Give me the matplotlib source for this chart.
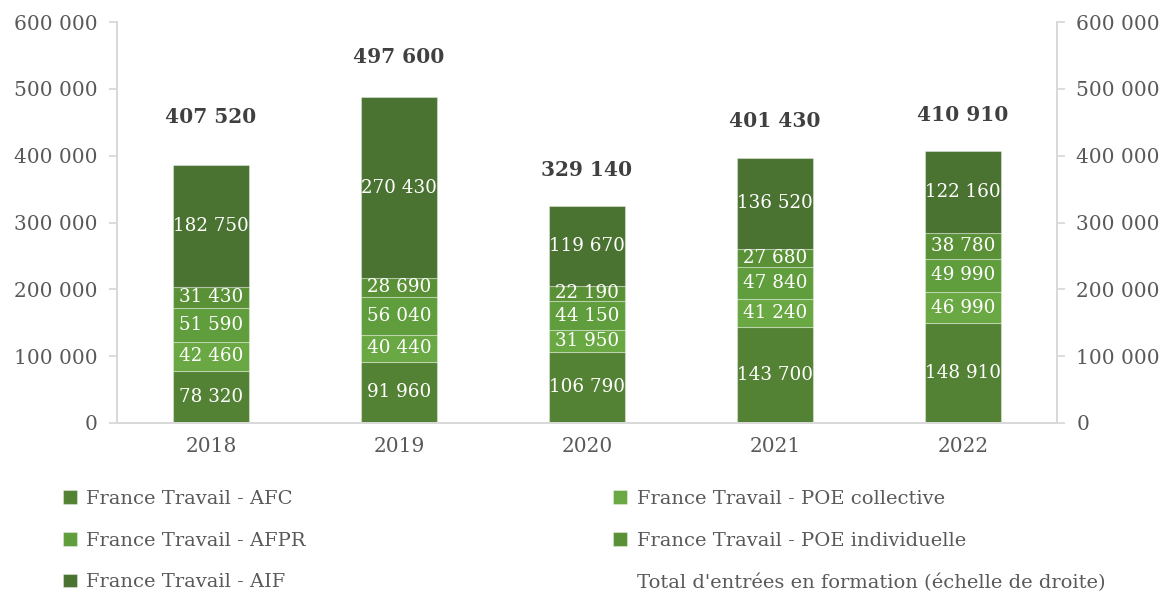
import matplotlib
matplotlib.use("Agg")
import matplotlib.pyplot as plt
from matplotlib.patches import Rectangle
import numpy as np

years = ["2018", "2019", "2020", "2021", "2022"]

afc = [78320, 91960, 106790, 143700, 148910]
poe_collective = [42460, 40440, 31950, 41240, 46990]
afpr = [51590, 56040, 44150, 47840, 49990]
poe_individuelle = [31430, 28690, 22190, 27680, 38780]
aif = [182750, 270430, 119670, 136520, 122160]
totals = [407520, 497600, 329140, 401430, 410910]

label_afc = "France Travail - AFC"
label_afpr = "France Travail - AFPR"
label_aif = "France Travail - AIF"
label_poe_col = "France Travail - POE collective"
label_poe_ind = "France Travail - POE individuelle"
label_total = "Total d'entrées en formation (échelle de droite)"

col_afc = "#548235"
col_poe_col = "#6aa843"
col_afpr = "#609d3d"
col_poe_ind = "#5a9137"
col_aif = "#4a7230"

plt.rcParams["font.family"] = ["DejaVu Serif"]
TXT = "#595959"
SPINE = "#d9d9d9"


def fmt(v):
    return f"{v:,}".replace(",", " ")


fig = plt.figure(figsize=(11.68, 5.99), dpi=100)
ax = fig.add_axes([117 / 1168, 1 - 423 / 599, 940 / 1168, 401 / 599])
ax2 = ax.twinx()

x = np.arange(len(years))
width = 0.4
stack = [
    (afc, col_afc, label_afc),
    (poe_collective, col_poe_col, label_poe_col),
    (afpr, col_afpr, label_afpr),
    (poe_individuelle, col_poe_ind, label_poe_ind),
    (aif, col_aif, label_aif),
]
bottom = np.zeros(len(years))
handles = {}
for vals, col, lab in stack:
    vals = np.array(vals, dtype=float)
    bars = ax.bar(x, vals, width, bottom=bottom, color=col,
                  edgecolor=(1, 1, 1, 0.35), linewidth=0.8, label=lab, zorder=2)
    handles[lab] = bars
    for xi, b, v in zip(x, bottom, vals):
        ax.text(xi, b + v / 2, fmt(int(v)), ha="center", va="center",
                color="white", fontsize=13.2, zorder=3)
    bottom += vals

# Totals on the secondary axis: invisible line carrying bold labels
line, = ax2.plot(x, totals, linestyle="none", marker=None, label=label_total)
for xi, t in zip(x, totals):
    ax2.annotate(fmt(t), (xi, t), xytext=(0, 24), textcoords="offset points",
                 ha="center", va="center", fontsize=14.5, fontweight="bold",
                 color="#404040")

ticks = np.arange(0, 600001, 100000)
for a in (ax, ax2):
    a.set_ylim(0, 600000)
    a.set_yticks(ticks)
    a.set_yticklabels([fmt(t) for t in ticks])
    a.set_xlim(-0.5, len(years) - 0.5)
    for s in a.spines.values():
        s.set_color(SPINE)
        s.set_linewidth(1.3)
    a.spines["top"].set_visible(False)
    a.tick_params(axis="y", colors=SPINE, labelcolor=TXT, labelsize=14.5,
                  length=6, width=1.3, pad=8)

ax.set_xticks(x)
ax.set_xticklabels(years)
ax.tick_params(axis="x", length=0, labelcolor=TXT, labelsize=14.5, pad=10)

blank = Rectangle((0, 0), 1, 1, fill=False, edgecolor="none", visible=False)
leg_handles = [handles[label_afc], handles[label_afpr], handles[label_aif],
               handles[label_poe_col], handles[label_poe_ind], blank]
leg_labels = [label_afc, label_afpr, label_aif, label_poe_col, label_poe_ind,
              label_total]
fig.legend(leg_handles, leg_labels, ncol=2, loc="upper left",
           bbox_to_anchor=(63 / 1168, 1 - 490 / 599), frameon=False,
           fontsize=14, labelcolor=TXT, handlelength=0.7, handleheight=0.7,
           handletextpad=0.5, columnspacing=15.8, labelspacing=1.22,
           borderaxespad=0, borderpad=0)

fig.savefig("out.png", dpi=100)
